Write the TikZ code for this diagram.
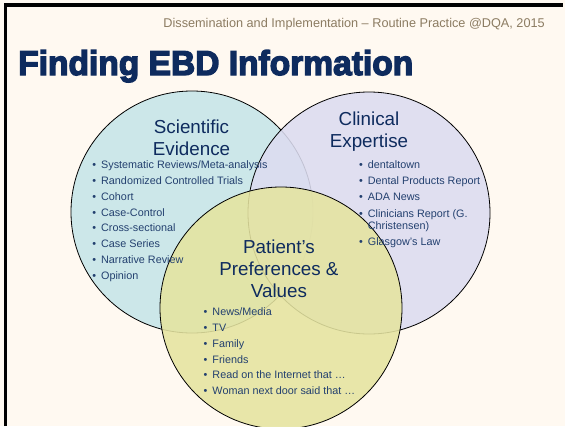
\documentclass[tikz,border=0pt]{standalone}
\usepackage{fontspec}
\setmainfont{Liberation Sans}
\newfontfamily\titlefont[BoldFeatures={FakeBold=4}]{Liberation Sans}
\usepackage{graphicx}
\usepackage{tikz}

\definecolor{cream}{HTML}{FFF9F1}
\definecolor{navy}{HTML}{0E2B5E}
\definecolor{listblue}{HTML}{23406F}
\definecolor{headgray}{HTML}{8C7C62}
\definecolor{scifill}{HTML}{C6E5E8}
\definecolor{clinfill}{HTML}{DCDCF0}
\definecolor{patfill}{HTML}{E5E4A0}

\begin{document}
\begin{tikzpicture}[x=1pt, y=-1pt]
\tikzstyle{venn} = [draw, circle, line width=0.8pt, minimum size=242pt, inner sep=0pt, fill opacity=0.88]
\tikzstyle{heading} = [anchor=base, align=center, text=navy, font=\fontsize{18.8}{21.7}\selectfont, inner sep=0pt]
\tikzstyle{item} = [anchor=base west, text=listblue, font=\fontsize{10.8}{12}\selectfont, inner sep=0pt]
\newcommand{\bul}{\llap{\textbullet\hspace{5pt}}}

    % background and slide frame
    \fill[cream] (0,0) rectangle (565,426);
    \useasboundingbox (0,0) rectangle (565,426);
    \draw[line width=3.4pt] (5.5,426) -- (5.5,5) -- (563,5);

    \node[anchor=base east, text=headgray, font=\fontsize{12.7}{14}\selectfont, inner sep=0pt] (header) at (545,27.7)
        {Dissemination and Implementation -- Routine Practice @DQA, 2015};
    \node[anchor=base west, text=navy, inner sep=0pt] (title) at (18,75)
        {\resizebox{395pt}{25pt}{\titlefont\bfseries Finding EBD Information}};

    % the three circles
    \node[venn, fill=scifill] (sci) at (192,212) {};
    \node[venn, fill=clinfill] (clin) at (369,213) {};
    \node[venn, fill=patfill] (pat) at (281,308) {};

    % headings (base is the last line)
    \node[heading] (scihead) at (191.5,155) {Scientific\\Evidence};
    \node[heading] (clinhead) at (369,147) {Clinical\\Expertise};
    \node[heading] (pathead) at (279,297) {Patient’s\\Preferences \&\\Values};

    % lists
    \foreach \txt [count=\i] in {Systematic Reviews/Meta-analysis, Randomized Controlled Trials, Cohort,
        Case-Control, Cross-sectional, Case Series, Narrative Review, Opinion}
        \node[item] (sci\i) at (101,{168.7+15.8*(\i-1)}) {\bul\txt};

    \foreach \y/\txt [count=\i] in {168.7/dentaltown, 184.7/Dental Products Report, 200/ADA News,
        217/{Clinicians Report (G.}, 245.7/Glasgow’s Law}
        \node[item] (clin\i) at (367.7,\y) {\bul\txt};
    \node[item] (clinwrap) at (367.7,229.3) {Christensen)};

    \foreach \txt [count=\i] in {News/Media, TV, Family, Friends,
        Read on the Internet that \dots, Woman next door said that \dots}
        \node[item] (pat\i) at (212.3,{315.7+15.8*(\i-1)}) {\bul\txt};

\end{tikzpicture}
\end{document}
